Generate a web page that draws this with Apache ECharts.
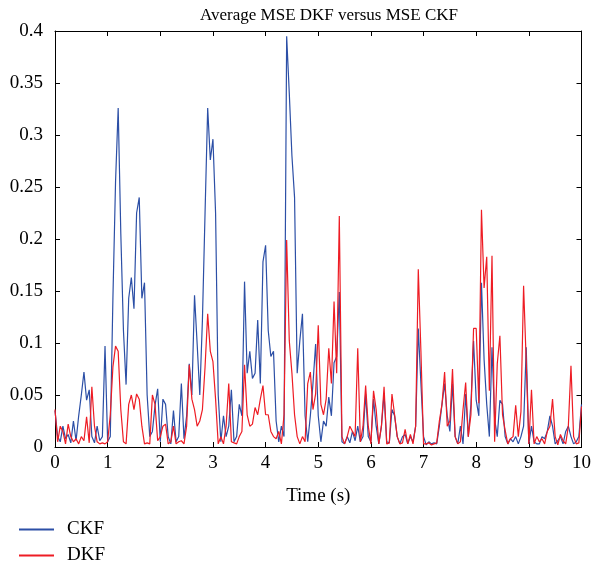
<!DOCTYPE html>
<html><head><meta charset="utf-8">
<script src="https://cdn.jsdelivr.net/npm/echarts@6/dist/echarts.min.js"></script>
<style>html,body{margin:0;padding:0;background:#fff}#c{width:594px;height:569px}</style>
</head><body><div id="c"></div>
<script>
const titleText = 'Average MSE DKF versus MSE CKF';
const xName = 'Time (s)';
const seriesNames = ['CKF', 'DKF'];
const timeStep = 0.05;
// CKF values, sampled every 0.05 s from 0 to 10 s
const ckf = [
  0.035,0.010,0.005,0.020,0.008,0.012,0.004,0.025,0.006,0.030,0.050,0.072,0.045,0.055,0.010,0.004,0.020,0.006,0.010,0.097,
  0.005,0.010,0.143,0.255,0.326,0.205,0.112,0.060,0.143,0.163,0.133,0.225,0.240,0.143,0.158,0.050,0.010,0.015,0.040,0.056,
  0.005,0.046,0.041,0.010,0.003,0.035,0.005,0.010,0.061,0.008,0.030,0.080,0.050,0.146,0.099,0.050,0.122,0.225,0.326,0.276,
  0.296,0.225,0.050,0.005,0.030,0.010,0.020,0.055,0.005,0.010,0.041,0.030,0.159,0.071,0.092,0.066,0.071,0.122,0.061,0.178,
  0.194,0.112,0.087,0.092,0.025,0.005,0.020,0.010,0.395,0.340,0.280,0.240,0.071,0.102,0.128,0.030,0.005,0.030,0.061,0.099,
  0.030,0.005,0.025,0.020,0.048,0.030,0.081,0.087,0.149,0.005,0.003,0.010,0.004,0.015,0.006,0.020,0.005,0.010,0.051,0.010,
  0.005,0.046,0.020,0.003,0.020,0.051,0.005,0.004,0.036,0.030,0.010,0.003,0.010,0.012,0.003,0.010,0.005,0.020,0.114,0.061,
  0.010,0.002,0.005,0.003,0.004,0.003,0.020,0.041,0.061,0.030,0.015,0.061,0.010,0.003,0.020,0.003,0.051,0.010,0.041,0.102,
  0.045,0.030,0.158,0.084,0.041,0.010,0.096,0.027,0.010,0.045,0.041,0.010,0.003,0.008,0.005,0.010,0.003,0.010,0.020,0.096,
  0.003,0.020,0.005,0.003,0.003,0.010,0.008,0.015,0.030,0.020,0.003,0.006,0.010,0.003,0.015,0.020,0.010,0.003,0.005,0.010,
  0.041
];
// DKF values, sampled every 0.05 s from 0 to 10 s
const dkf = [
  0.036,0.005,0.020,0.015,0.003,0.022,0.010,0.005,0.008,0.003,0.010,0.006,0.029,0.004,0.058,0.020,0.005,0.003,0.004,0.003,
  0.005,0.031,0.077,0.097,0.092,0.036,0.005,0.003,0.041,0.050,0.036,0.051,0.046,0.020,0.003,0.004,0.003,0.050,0.041,0.006,
  0.010,0.020,0.022,0.003,0.005,0.020,0.003,0.005,0.006,0.003,0.020,0.079,0.046,0.036,0.020,0.025,0.036,0.077,0.128,0.092,
  0.082,0.046,0.003,0.010,0.003,0.020,0.061,0.005,0.004,0.003,0.010,0.015,0.079,0.031,0.020,0.022,0.038,0.031,0.046,0.059,
  0.031,0.031,0.015,0.010,0.008,0.015,0.003,0.031,0.199,0.102,0.071,0.031,0.010,0.003,0.010,0.005,0.061,0.072,0.036,0.051,
  0.117,0.041,0.031,0.046,0.095,0.061,0.140,0.071,0.222,0.010,0.003,0.010,0.020,0.015,0.010,0.095,0.005,0.020,0.059,0.020,
  0.003,0.054,0.036,0.003,0.020,0.058,0.003,0.004,0.051,0.031,0.010,0.003,0.004,0.017,0.003,0.012,0.003,0.020,0.171,0.092,
  0.003,0.003,0.004,0.002,0.003,0.004,0.025,0.041,0.072,0.020,0.025,0.075,0.010,0.003,0.005,0.036,0.062,0.010,0.031,0.114,
  0.114,0.042,0.228,0.153,0.183,0.054,0.184,0.005,0.080,0.107,0.031,0.016,0.003,0.008,0.010,0.040,0.010,0.034,0.155,0.082,
  0.003,0.055,0.003,0.010,0.005,0.008,0.003,0.015,0.020,0.046,0.010,0.002,0.012,0.006,0.003,0.020,0.078,0.010,0.003,0.004,
  0.039
];
const xMin = 0, xMax = 10, xInterval = 1;
const yMin = 0, yMax = 0.4, yInterval = 0.05;

function pairs(vals){ return vals.map((v,i)=>[+(i*timeStep).toFixed(2), v]); }

const font = '"Liberation Serif", "DejaVu Serif", serif';
const chart = echarts.init(document.getElementById('c'));
const axisLine = {show:true, onZero:false, lineStyle:{color:'#000', width:1}};
const tick = {show:true, inside:true, length:5, lineStyle:{color:'#000'}};
const legendBase = {orient:'vertical', left:14, itemWidth:35, itemHeight:2, icon:'rect',
    textStyle:{fontFamily:font, fontSize:19, color:'#000', padding:[0,0,0,8]}};
chart.setOption({
  animation:false,
  title:{text:titleText, left:195, top:2, textStyle:{fontFamily:font, fontWeight:'normal', fontSize:17, color:'#000'}},
  legend:[
    Object.assign({top:515, data:[seriesNames[0]]}, legendBase),
    Object.assign({top:541, data:[seriesNames[1]]}, legendBase)
  ],
  grid:{left:55, right:7, top:31, bottom:122, containLabel:false},
  xAxis:[
    {type:'value', min:xMin, max:xMax, interval:xInterval, position:'bottom',
      name:xName, nameLocation:'middle', nameGap:40, nameTextStyle:{fontFamily:font, fontSize:19, color:'#000'},
      axisLine, axisTick:tick, splitLine:{show:false},
      axisLabel:{fontFamily:font, fontSize:19, color:'#000', margin:7}},
    {type:'value', min:xMin, max:xMax, interval:xInterval, position:'top',
      axisLine, axisTick:tick, splitLine:{show:false}, axisLabel:{show:false}}
  ],
  yAxis:[
    {type:'value', min:yMin, max:yMax, interval:yInterval, position:'left',
      axisLine, axisTick:tick, splitLine:{show:false},
      axisLabel:{fontFamily:font, fontSize:19, color:'#000', margin:12}},
    {type:'value', min:yMin, max:yMax, interval:yInterval, position:'right',
      axisLine, axisTick:tick, splitLine:{show:false}, axisLabel:{show:false}}
  ],
  series:[
    {name:seriesNames[0], type:'line', data:pairs(ckf), showSymbol:false, symbol:'none',
      lineStyle:{color:'#2c4fa6', width:1.2}, itemStyle:{color:'#2c4fa6'}, z:2},
    {name:seriesNames[1], type:'line', data:pairs(dkf), showSymbol:false, symbol:'none',
      lineStyle:{color:'#ee1c24', width:1.2}, itemStyle:{color:'#ee1c24'}, z:3}
  ]
});
</script></body></html>
